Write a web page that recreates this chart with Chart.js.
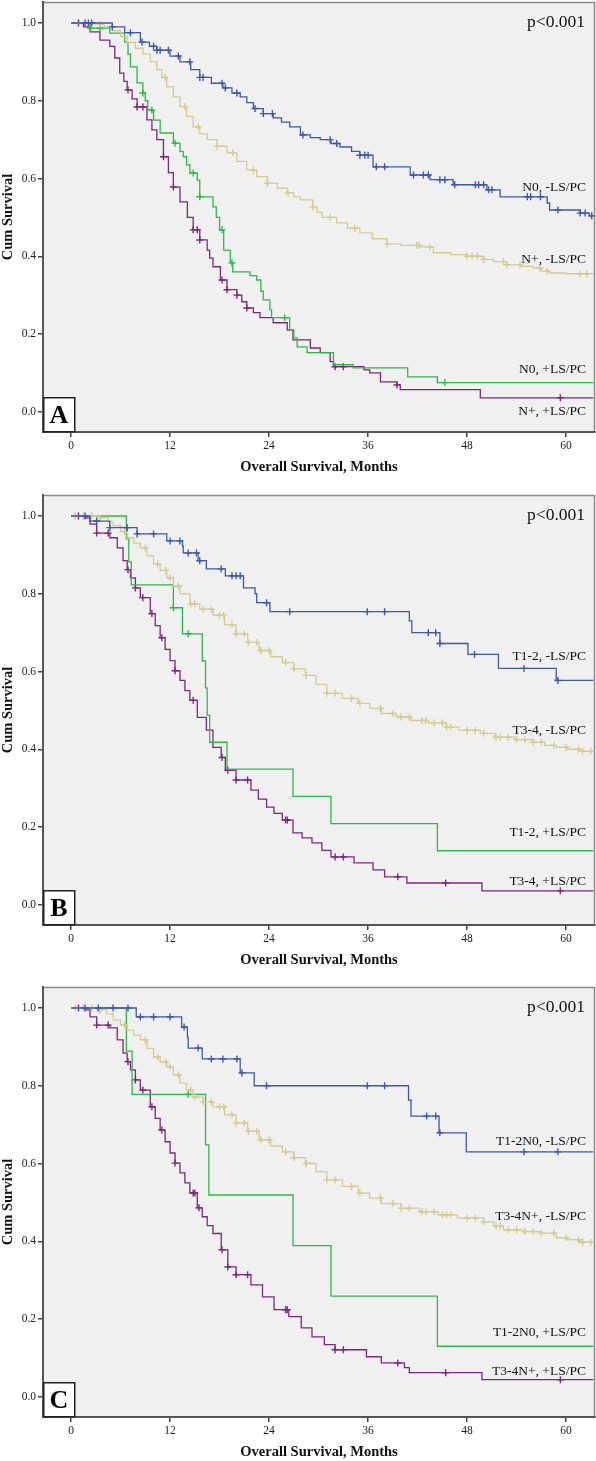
<!doctype html>
<html lang="en">
<head>
<meta charset="UTF-8">
<title>Overall survival by LS/PC status</title>
<script src="https://cdn.jsdelivr.net/npm/chart.js"></script>
<style>
  html, body { margin: 0; padding: 0; background: #fff; }
  body { width: 596px; height: 1461px; position: relative; overflow: hidden; }
  .panel { position: absolute; left: 0; width: 596px; height: 480px; }
</style>
</head>
<body>
<div class="panel" style="top:0px"><canvas id="chartA" width="596" height="480"></canvas></div>
<div class="panel" style="top:493px"><canvas id="chartB" width="596" height="480"></canvas></div>
<div class="panel" style="top:985px"><canvas id="chartC" width="596" height="480"></canvas></div>

<script>
// ---- shared ----
const xTicks = [0, 12, 24, 36, 48, 60];
const yTicks = [0, 0.2, 0.4, 0.6, 0.8, 1.0];
const followUpEnd = 63.3;
const pText = 'p<0.001';

// ---- Panel A : N stage / LS-PC ----
const aNames = ['N0, -LS/PC', 'N+, -LS/PC', 'N0, +LS/PC', 'N+, +LS/PC'];
const aN0Neg = [[0,1],[5,0.99],[6.5,0.975],[8.4,0.951],[9.5,0.94],[10.4,0.93],[12,0.915],[13.2,0.9],[14.5,0.88],[15.6,0.86],[17,0.845],[18.4,0.833],[19.5,0.82],[20.5,0.81],[21.3,0.795],[22.1,0.78],[23.3,0.767],[24.5,0.756],[25.5,0.745],[26.5,0.733],[27.8,0.712],[29,0.705],[30.2,0.7],[31.5,0.69],[32.6,0.681],[34,0.67],[35,0.66],[36.6,0.63],[41.1,0.609],[43.5,0.597],[46.3,0.584],[50.4,0.571],[52,0.553],[57.7,0.537],[58,0.519],[61.7,0.511],[62.8,0.504]];
const aNpNeg = [[0,1],[2.5,0.997],[4,0.99],[5,0.98],[6,0.965],[6.8,0.95],[7.8,0.935],[8.7,0.92],[9.6,0.9],[10.4,0.88],[11,0.86],[11.6,0.836],[12.4,0.81],[13.2,0.785],[14,0.76],[14.8,0.733],[15.6,0.715],[16.5,0.7],[17.7,0.683],[18.9,0.666],[20.1,0.644],[21.3,0.622],[22.5,0.605],[23.8,0.588],[25,0.575],[26.2,0.563],[27,0.553],[27.8,0.545],[29.3,0.527],[29.8,0.513],[30.4,0.5],[32.2,0.486],[33.5,0.472],[35,0.46],[36.5,0.445],[38.3,0.432],[40,0.428],[42.3,0.424],[43.9,0.409],[46,0.404],[48,0.4],[50,0.392],[51.2,0.386],[52.8,0.378],[54.5,0.374],[56,0.37],[57,0.362],[58,0.357],[60,0.355]];
const aN0Pos = [[0,1],[2.3,0.987],[4.7,0.974],[6.5,0.951],[6.9,0.92],[7.2,0.887],[8,0.846],[8.7,0.82],[9,0.8],[9.3,0.776],[10,0.75],[10.8,0.717],[12.4,0.691],[13.2,0.67],[13.6,0.656],[14,0.635],[14.4,0.614],[15.3,0.596],[15.6,0.553],[17.2,0.527],[17.6,0.5],[18,0.468],[18.5,0.416],[19.3,0.383],[19.6,0.36],[21.7,0.35],[22.5,0.339],[23,0.31],[23.3,0.288],[24.1,0.262],[24.3,0.242],[26.5,0.21],[27,0.19],[27.4,0.167],[28.6,0.152],[31.8,0.121],[34.2,0.113],[40.8,0.09],[44.4,0.075]];
const aNpPos = [[0,1],[1.5,0.99],[2.3,0.977],[3.5,0.956],[4.7,0.94],[5.3,0.91],[5.9,0.871],[6.4,0.85],[6.8,0.828],[7.4,0.805],[8,0.784],[9.2,0.751],[9.8,0.725],[10.4,0.7],[11.2,0.656],[11.8,0.615],[12.4,0.578],[13.2,0.54],[14.1,0.5],[14.8,0.468],[15.6,0.442],[16.5,0.416],[16.8,0.395],[17.2,0.373],[18.1,0.339],[18.9,0.314],[20.1,0.3],[20.7,0.283],[21.3,0.267],[22.1,0.255],[22.9,0.242],[24.5,0.229],[26.2,0.21],[26.9,0.185],[29,0.164],[30.2,0.152],[31.4,0.129],[31.8,0.116],[35.5,0.108],[36.2,0.1],[37.5,0.077],[39.5,0.069],[39.9,0.057],[49.6,0.036]];
const aN0NegCens = [1.7,2.1,2.5,5,7.2,8.6,10,10.4,10.8,11.8,13,14.4,15.6,16,18.3,18.7,20.1,22.3,23.3,24.4,28.1,31.4,32.2,35,35.6,36,37,38,41.5,42.7,43.3,44.7,45.3,46.5,49,49.4,50,50.6,51,55.3,55.7,56.9,59,61.7,62.3,63.1];
const aNpNegCens = [3.5,11.4,13.8,15.4,17.7,19.6,22.1,23.8,26.3,29.3,31.4,34.4,38.3,41.9,42.2,43.5,48,48.6,49.2,50,52.4,52.8,54.4,56.8,57.7,61.7,62.5];
const aN0PosCens = [2.3,3.5,8.7,9.8,12.6,14.8,15.6,18.3,19.5,25.9,45.3];
const aNpPosCens = [0.9,6.9,8,8.7,11.2,12.4,14.8,15.3,15.6,18.3,18.9,20.1,21.3,32,33,39.5,59.3];

// ---- Panel B : T stage / LS-PC ----
const bNames = ['T1-2, -LS/PC', 'T3-4, -LS/PC', 'T1-2, +LS/PC', 'T3-4, +LS/PC'];
const bT12Neg = [[0,1],[2.3,0.987],[4.7,0.97],[8,0.954],[11.6,0.936],[13.5,0.923],[13.6,0.905],[15.4,0.885],[16.4,0.864],[18.7,0.846],[20.9,0.815],[22.3,0.8],[22.5,0.777],[24.1,0.754],[41,0.73],[41.3,0.7],[44.7,0.672],[48.1,0.644],[51.8,0.608],[58.8,0.577]];
const bT34Neg = [[0,1],[3.5,0.995],[4.5,0.985],[5.1,0.975],[6,0.96],[6.8,0.944],[7.6,0.93],[8.4,0.918],[9.2,0.898],[10,0.877],[10.8,0.86],[11.6,0.841],[12.4,0.82],[13.2,0.8],[14.4,0.774],[15.6,0.76],[17.2,0.745],[18.6,0.72],[20,0.697],[21.4,0.675],[22.8,0.654],[24.2,0.638],[25.6,0.623],[27,0.607],[28.4,0.59],[29.7,0.567],[31,0.544],[32.9,0.531],[34.8,0.518],[36.2,0.505],[37.6,0.492],[39.4,0.483],[41.2,0.474],[43.3,0.468],[45.5,0.457],[47,0.449],[49.6,0.441],[51.4,0.431],[53.8,0.425],[56,0.418],[57.4,0.41],[58.8,0.405],[60.2,0.4],[61.6,0.395]];
const bT12Pos = [[0,1],[6.7,0.941],[7,0.882],[7.3,0.823],[12.4,0.764],[13.5,0.697],[15.9,0.627],[16.3,0.558],[16.5,0.488],[16.8,0.418],[18.9,0.349],[26.9,0.279],[31.5,0.209],[44.4,0.139]];
const bT34Pos = [[0,1],[1.5,0.995],[2.3,0.979],[3.1,0.956],[4.7,0.944],[5.6,0.918],[6.3,0.885],[6.8,0.862],[7.2,0.841],[7.8,0.815],[8.4,0.79],[9.6,0.749],[10.2,0.718],[10.8,0.687],[11.4,0.657],[12,0.628],[12.6,0.602],[13.2,0.577],[13.8,0.551],[14.4,0.526],[15.3,0.482],[16.4,0.449],[17.2,0.405],[18.2,0.379],[18.7,0.346],[20,0.321],[21.8,0.295],[22.7,0.272],[23.7,0.251],[24.6,0.235],[25.6,0.218],[26.9,0.185],[28,0.172],[29.2,0.159],[30.4,0.14],[31.5,0.123],[34.3,0.108],[36.6,0.09],[38,0.072],[40.7,0.056],[49.8,0.036]];
const bT12NegCens = [1.7,3.1,4.7,6.8,8,10,12,13.2,14.2,15.2,15.6,18.2,19.5,20,20.5,23.7,26.5,35.9,38,43.3,44.2,44.7,48.9,54.9,59];
const bT34NegCens = [0.5,1.5,2.5,3.5,6.5,9,10.5,11.5,12,13,14.5,15,16,17,18,18.5,19.5,20,21,21.5,22.5,23,24,26,27,28.5,31,32,34,35,37.5,39,40,41,42.5,43,44,45,45.5,46,48,49,50,51.5,52,53,54,55,56,57,58.5,60,61.5,62,63];
const bT12PosCens = [12.4,14.2];
const bT34PosCens = [0.9,3.1,4.5,6.9,7.8,8.7,9.8,11,12.6,14.8,18.3,19,20,21.4,26,26.2,32,33,39.6,45.4,59.3];

// ---- Panel C : TN stage / LS-PC ----
const cNames = ['T1-2N0, -LS/PC', 'T3-4N+, -LS/PC', 'T1-2N0, +LS/PC', 'T3-4N+, +LS/PC'];
const cT12N0Neg = [[0,1],[7.9,0.977],[13.4,0.951],[14.1,0.925],[14.2,0.897],[15.9,0.869],[20.5,0.833],[22.2,0.8],[40.9,0.763],[41.2,0.722],[44.6,0.679],[47.9,0.63]];
const cT34NpNeg = [[0,1],[3.5,0.995],[4.3,0.985],[5.1,0.969],[6,0.956],[6.8,0.943],[7.6,0.93],[8.4,0.918],[9.2,0.896],[10,0.874],[10.8,0.861],[11.6,0.848],[12.4,0.828],[13.2,0.807],[14,0.789],[14.8,0.771],[16,0.758],[17.2,0.746],[18.6,0.725],[20,0.704],[21.4,0.683],[22.8,0.661],[24.2,0.645],[25.6,0.63],[27,0.615],[28.4,0.6],[29.7,0.579],[31,0.558],[32.9,0.541],[34.8,0.524],[36.2,0.511],[37.6,0.497],[40,0.485],[42.2,0.476],[44.5,0.468],[46.8,0.46],[50,0.45],[51.2,0.44],[52.4,0.429],[54.7,0.425],[57,0.421],[58.8,0.409],[60.2,0.404],[61.6,0.398]];
const cT12N0Pos = [[0,1],[6.7,0.889],[7.4,0.778],[16.3,0.648],[16.7,0.519],[26.9,0.389],[31.5,0.259],[44.4,0.13]];
const cT34NpPos = [[0,1],[1.5,0.995],[2.3,0.977],[3.1,0.956],[4.7,0.949],[5.6,0.918],[6.3,0.884],[6.8,0.862],[7.2,0.841],[7.8,0.815],[8.4,0.789],[9.6,0.746],[10.2,0.716],[10.8,0.686],[11.4,0.656],[12,0.627],[12.6,0.601],[13.2,0.576],[13.8,0.55],[14.4,0.524],[15.3,0.486],[15.9,0.463],[16.5,0.44],[17.2,0.42],[18.2,0.378],[19,0.334],[20,0.314],[21.8,0.288],[23.2,0.257],[24.6,0.224],[26.4,0.206],[27.9,0.177],[29.2,0.154],[30.7,0.134],[32,0.121],[35.8,0.103],[37.6,0.087],[40.4,0.075],[41,0.062],[49.8,0.044]];
const cT12N0NegCens = [1.7,3.3,5.1,6.9,8.4,10,12,13.7,15.4,17,18.4,20.1,20.7,23.7,35.9,38,43.1,44.2,44.7,54.9,59];
const cT34NpNegCens = [0.5,1.5,2.5,3.5,6.5,9,10.5,11.5,12,13,14.5,15,16,17,18,18.5,19.5,20,21,21.5,22.5,23,24,26,27,28.5,31,32,34,35,37.5,39,40,41,42.5,43,44,45,45.5,46,48,49,50,51.5,52,53,54,55,56,57,58.5,60,61.5,62,63];
const cT12N0PosCens = [14.2];
const cT34NpPosCens = [0.9,3.1,4.5,6.9,7.8,8.7,9.8,11,12.6,14.8,15,15.5,18.3,19,20,21.4,26,26.2,32,33,39.6,45.4,59.3];

// SPSS default group colours: blue, beige, green, purple
const colors = ['#3e58ac', '#d3cb92', '#2eb848', '#7c287d'];

function survAt(curve, t) {
  let s = 1;
  for (const [x, y] of curve) {
    if (x <= t) s = y; else break;
  }
  return s;
}

function curveData(curve) {
  const pts = curve.map(([x, y]) => ({x, y}));
  pts.push({x: followUpEnd, y: curve[curve.length - 1][1]});
  return pts;
}

// draws plot background, frame, p value, group labels and panel letter
const panelText = {
  id: 'panelText',
  beforeDraw(chart) {
    const {ctx, chartArea: a} = chart;
    ctx.save();
    ctx.fillStyle = '#f0f0f0';
    ctx.fillRect(a.left, a.top, a.right - a.left, a.bottom - a.top);
    ctx.strokeStyle = '#8a8a8a';
    ctx.lineWidth = 1.5;
    ctx.beginPath();
    ctx.moveTo(a.left, a.top + 0.5);
    ctx.lineTo(a.right - 0.5, a.top + 0.5);
    ctx.lineTo(a.right - 0.5, a.bottom);
    ctx.stroke();
    ctx.restore();
  },
  afterDraw(chart, args, opts) {
    const {ctx, chartArea: a, scales: {y}} = chart;
    ctx.save();
    ctx.fillStyle = '#111';
    ctx.textAlign = 'right';
    ctx.textBaseline = 'middle';
    ctx.font = '17.5px "Liberation Serif", "Times New Roman", serif';
    ctx.fillText(pText, a.right - 10, a.top + 20);
    ctx.font = '13.5px "Liberation Serif", "Times New Roman", serif';
    opts.names.forEach((n, i) => {
      ctx.fillText(n, a.right - 9, y.getPixelForValue(opts.labelAt[i]));
    });
    // panel letter box
    ctx.fillStyle = '#fff';
    ctx.fillRect(a.left, a.bottom - 35, 32, 35);
    ctx.strokeStyle = '#222';
    ctx.lineWidth = 1.5;
    ctx.strokeRect(a.left + 0.75, a.bottom - 34.25, 31, 34);
    ctx.fillStyle = '#000';
    ctx.textAlign = 'center';
    ctx.font = 'bold 26px "Liberation Serif", "Times New Roman", serif';
    ctx.fillText(opts.letter, a.left + 16, a.bottom - 16);
    ctx.restore();
  }
};

function makeChart(id, letter, names, curves, cens, labelAt) {
  const datasets = [];
  curves.forEach((c, i) => {
    datasets.push({
      type: 'line',
      data: curveData(c),
      stepped: true,
      borderColor: colors[i],
      borderWidth: 1.3,
      pointRadius: 0,
      fill: false
    });
    datasets.push({
      type: 'line',
      showLine: false,
      data: cens[i].map(t => ({x: t, y: survAt(c, t)})),
      pointStyle: 'cross',
      pointRadius: 3.5,
      pointBorderWidth: 1.4,
      borderColor: colors[i],
      backgroundColor: colors[i]
    });
  });

  const tickFont = {family: '"Liberation Serif", "Times New Roman", serif', size: 11.5};
  const titleFont = {family: '"Liberation Serif", "Times New Roman", serif', size: 14.5, weight: 'bold'};

  return new Chart(document.getElementById(id), {
    type: 'line',
    data: {datasets},
    options: {
      responsive: false,
      animation: false,
      layout: {autoPadding: false, padding: {top: 2, right: 1, bottom: 0, left: 0}},
      plugins: {
        legend: {display: false},
        tooltip: {enabled: false},
        panelText: {letter, names, labelAt}
      },
      scales: {
        x: {
          type: 'linear',
          min: -3.4,
          max: 63.5,
          afterBuildTicks: s => { s.ticks = xTicks.map(v => ({value: v})); },
          afterFit: s => { s.height = 48; s.paddingLeft = 0; s.paddingRight = 0; },
          ticks: {color: '#222', font: tickFont, padding: 2, maxRotation: 0,
                  callback: v => String(v)},
          grid: {display: true, drawOnChartArea: false, drawTicks: true, tickLength: 5,
                 color: '#444', lineWidth: 1.5},
          border: {display: true, color: '#555', width: 2},
          title: {display: true, text: 'Overall Survival, Months', color: '#111',
                  font: titleFont, padding: {top: 4, bottom: 4}}
        },
        y: {
          type: 'linear',
          min: -0.052,
          max: 1.054,
          afterBuildTicks: s => { s.ticks = yTicks.map(v => ({value: v})); },
          afterFit: s => { s.width = 43; s.paddingTop = 0; s.paddingBottom = 0; },
          ticks: {color: '#222', font: tickFont, padding: 2,
                  callback: v => v.toFixed(1)},
          grid: {display: true, drawOnChartArea: false, drawTicks: true, tickLength: 5,
                 color: '#444', lineWidth: 1.5},
          border: {display: true, color: '#555', width: 2},
          title: {display: true, text: 'Cum Survival', color: '#111',
                  font: titleFont, padding: {top: 0, bottom: 0}}
        }
      }
    },
    plugins: [panelText]
  });
}

makeChart('chartA', 'A', aNames,
  [aN0Neg, aNpNeg, aN0Pos, aNpPos],
  [aN0NegCens, aNpNegCens, aN0PosCens, aNpPosCens],
  [0.577, 0.393, 0.108, 0.0]);

makeChart('chartB', 'B', bNames,
  [bT12Neg, bT34Neg, bT12Pos, bT34Pos],
  [bT12NegCens, bT34NegCens, bT12PosCens, bT34PosCens],
  [0.638, 0.449, 0.187, 0.059]);

makeChart('chartC', 'C', cNames,
  [cT12N0Neg, cT34NpNeg, cT12N0Pos, cT34NpPos],
  [cT12N0NegCens, cT34NpNegCens, cT12N0PosCens, cT34NpPosCens],
  [0.656, 0.463, 0.165, 0.064]);
</script>
</body>
</html>
